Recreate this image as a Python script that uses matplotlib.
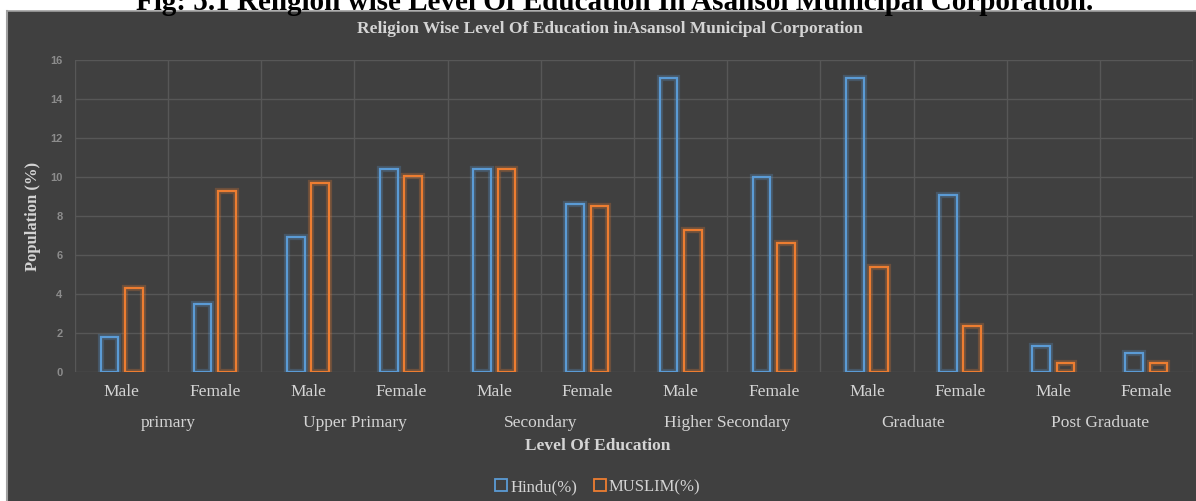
import matplotlib.pyplot as plt
import matplotlib.patheffects as pe
from matplotlib.patches import Rectangle, Patch
from matplotlib.lines import Line2D
import numpy as np

# data
levels = ['primary', 'Upper Primary', 'Secondary', 'Higher Secondary', 'Graduate', 'Post Graduate']
sexes = ['Male', 'Female']
hindu = [1.8, 3.5, 6.9, 10.4, 10.4, 8.6, 15.1, 10.0, 15.1, 9.1, 1.35, 0.95]
muslim = [4.3, 9.3, 9.7, 10.05, 10.4, 8.5, 7.3, 6.6, 5.4, 2.35, 0.45, 0.45]

W, H = 1196, 501
bg = '#404040'
txt = '#d4d4d4'
blue = '#5B9BD5'
orange = '#ED7D31'

plt.rcParams['font.family'] = ['Liberation Serif', 'DejaVu Serif']

fig = plt.figure(figsize=(W / 100, H / 100), dpi=100, facecolor='white')

# dark chart panel below the caption
fig.patches.append(Rectangle((7 / W, 0), 1, 1 - 11 / H, transform=fig.transFigure,
                             facecolor=bg, edgecolor='none', zorder=-5))
fig.add_artist(Line2D([7 / W, 7 / W], [0, 1 - 11 / H], color='#a0a0a0', lw=1.5, zorder=-4))
fig.add_artist(Line2D([7 / W, 1], [1 - 11 / H, 1 - 11 / H], color='#a0a0a0', lw=1.2, zorder=-4))

# caption cut by the top edge
fig.text(0.514, 1 - 10 / H, 'Fig: 5.1 Religion wise Level Of Education In Asansol Municipal Corporation.',
         ha='center', va='baseline', fontsize=21, fontweight='bold', color='black')

ax = fig.add_axes([75 / W, (H - 372) / H, 1118 / W, 312 / H])
ax.set_facecolor('none')

x = np.arange(len(hindu))
bw = 0.19
off = 0.13
for vals, col, sgn in [(hindu, blue, -1), (muslim, orange, 1)]:
    bars = ax.bar(x + sgn * off, vals, width=bw, facecolor='none', edgecolor=col, linewidth=1.6, zorder=3)
    for b in bars:
        b.set_path_effects([pe.Stroke(linewidth=4.5, foreground=col, alpha=0.25), pe.Normal()])

ax.set_xlim(-0.5, len(hindu) - 0.5)
ax.set_ylim(0, 16)
ax.set_yticks(np.arange(0, 17, 2))
ax.set_xticks(x)
ax.set_xticklabels(sexes * len(levels), fontsize=12.5, color=txt)
ax.set_xticks(np.arange(-0.5, len(hindu), 1), minor=True)
ax.tick_params(axis='x', which='both', length=0, pad=9)
ax.tick_params(axis='y', length=0, pad=9, labelsize=8, labelcolor='#8c8c8c')
for lab in ax.get_yticklabels():
    lab.set_fontfamily('Liberation Sans')
    lab.set_fontweight('bold')
ax.grid(axis='y', which='major', color='#575757', lw=1)
ax.grid(axis='x', which='minor', color='#575757', lw=1)
ax.set_axisbelow(True)
for s in ax.spines.values():
    s.set_visible(False)

for i, name in enumerate(levels):
    ax.text(2 * i + 0.5, -51 / 312, name, transform=ax.get_xaxis_transform(),
            ha='center', va='center', fontsize=12.5, color=txt)

fig.text(0.5, 1 - 446 / H, 'Level Of Education', ha='center', va='center',
         fontsize=12.5, fontweight='bold', color=txt)
fig.text(33 / W, (H - 216) / H, 'Population (%)', rotation=90, ha='center', va='center',
         fontsize=12, fontweight='bold', color=txt)
fig.text(0.51, 1 - 29 / H, 'Religion Wise Level Of Education inAsansol Municipal Corporation',
         ha='center', va='center', fontsize=12.5, fontweight='bold', color=txt)

handles = [Patch(facecolor='none', edgecolor=blue, lw=1.3, label='Hindu(%)'),
           Patch(facecolor='none', edgecolor=orange, lw=1.3, label='MUSLIM(%)')]
fig.legend(handles=handles, loc='center', bbox_to_anchor=(0.5, 1 - 487 / H), ncol=2,
           frameon=False, fontsize=12, labelcolor=txt, handlelength=0.7, handleheight=0.7,
           handletextpad=0.2, columnspacing=1.0)

fig.savefig('out.png', dpi=100, facecolor=fig.get_facecolor())
